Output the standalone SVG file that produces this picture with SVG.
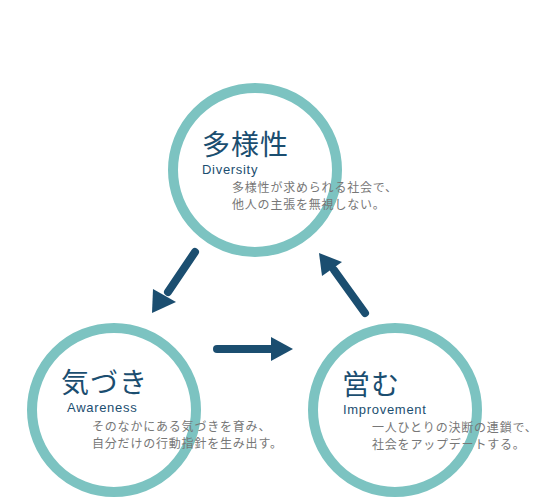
<svg xmlns="http://www.w3.org/2000/svg" width="544" height="500" viewBox="0 0 544 500">
<style>
.ring{fill:none;stroke:#7cc3c1;stroke-width:10}
.title{font-family:"Noto Sans CJK JP","Noto Sans",sans-serif;font-size:28px;fill:#1b4e70;letter-spacing:1px}
.en{font-family:"Liberation Sans",Arial,sans-serif;font-size:13px;fill:#1b4e70;letter-spacing:0.7px}
.desc{font-family:"Noto Sans CJK JP",sans-serif;font-size:12px;fill:#777;letter-spacing:0.8px}
.arr{stroke:#1b4e70;stroke-width:8;stroke-linecap:round;fill:none}
.head{fill:#1b4e70}
</style>
<rect width="544" height="500" fill="#fff"/>
<g id="diversity">
<circle class="ring" cx="255" cy="170" r="82"/>
<text class="title" x="202" y="155">多様性</text>
<text class="en" x="202" y="174">Diversity</text>
<text class="desc" x="232" y="192">多様性が求められる社会で、</text>
<text class="desc" x="232" y="209">他人の主張を無視しない。</text>
</g>
<g id="awareness">
<circle class="ring" cx="114" cy="410" r="82"/>
<text class="title" x="61" y="393">気づき</text>
<text class="en" x="67" y="412">Awareness</text>
<text class="desc" x="92" y="431">そのなかにある気づきを育み、</text>
<text class="desc" x="92" y="448">自分だけの行動指針を生み出す。</text>
</g>
<g id="improvement">
<circle class="ring" cx="395" cy="410" r="82"/>
<text class="title" x="342" y="395">営む</text>
<text class="en" x="343" y="414">Improvement</text>
<text class="desc" x="372" y="432">一人ひとりの決断の連鎖で、</text>
<text class="desc" x="372" y="449">社会をアップデートする。</text>
</g>
<g id="connectors">
<line class="arr" x1="195" y1="252" x2="168" y2="292"/>
<polygon class="head" points="152,313 153,289 176,302"/>
<line class="arr" x1="217" y1="349" x2="275" y2="349"/>
<polygon class="head" points="293,349 271,337 271,361"/>
<line class="arr" x1="365" y1="313" x2="334" y2="270"/>
<polygon class="head" points="319,253 342,262 322,276"/>
</g>
</svg>
